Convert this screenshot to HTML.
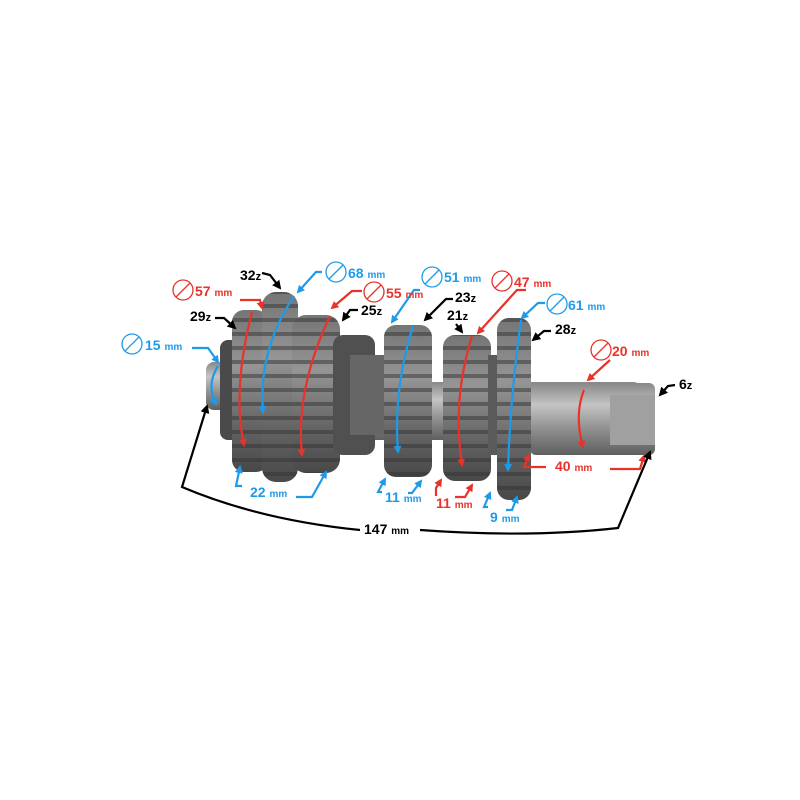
<!DOCTYPE html>
<html><head><meta charset="utf-8"><style>
html,body{margin:0;padding:0;background:#fff;}
svg{display:block}
text{font-family:"Liberation Sans",sans-serif;font-weight:bold;}
</style></head><body>
<svg width="800" height="800" viewBox="0 0 800 800" xmlns="http://www.w3.org/2000/svg">
<defs>
<linearGradient id="g" x1="0" y1="0" x2="0" y2="1">
<stop offset="0" stop-color="#757575"/><stop offset="0.35" stop-color="#959595"/><stop offset="0.7" stop-color="#666"/><stop offset="1" stop-color="#484848"/></linearGradient>
<linearGradient id="s" x1="0" y1="0" x2="0" y2="1">
<stop offset="0" stop-color="#888"/><stop offset="0.3" stop-color="#c4c4c4"/><stop offset="0.6" stop-color="#959595"/><stop offset="1" stop-color="#5f5f5f"/></linearGradient>
<pattern id="t" width="10" height="14" patternUnits="userSpaceOnUse"><rect width="10" height="14" fill="none"/><rect y="10" width="10" height="4" fill="#333" opacity="0.5"/></pattern>
<marker id="ar" markerWidth="8" markerHeight="8" refX="6" refY="4" orient="auto" markerUnits="userSpaceOnUse"><path d="M0,0 L8,4 L0,8 Z" fill="#e8322a"/></marker>
<marker id="ab" markerWidth="8" markerHeight="8" refX="6" refY="4" orient="auto" markerUnits="userSpaceOnUse"><path d="M0,0 L8,4 L0,8 Z" fill="#1e9be8"/></marker>
<marker id="ak" markerWidth="9" markerHeight="9" refX="7" refY="4.5" orient="auto" markerUnits="userSpaceOnUse"><path d="M0,0 L9,4.5 L0,9 Z" fill="#000"/></marker>
</defs>
<rect x="340" y="382" width="300" height="58" rx="6" fill="url(#s)"/>
<rect x="530" y="383" width="125" height="72" rx="6" fill="url(#s)"/>
<rect x="610" y="395" width="45" height="50" fill="#a0a0a0"/>
<rect x="206" y="362" width="30" height="48" rx="8" fill="url(#s)"/>
<rect x="220" y="340" width="20" height="100" rx="8" fill="#4a4a4a"/>
<rect x="232" y="310" width="36" height="162" rx="12" fill="url(#g)"/>
<rect x="232" y="310" width="36" height="162" rx="12" fill="url(#t)"/>
<rect x="262" y="292" width="36" height="190" rx="14" fill="url(#g)"/>
<rect x="262" y="292" width="36" height="190" rx="14" fill="url(#t)"/>
<rect x="292" y="315" width="48" height="158" rx="14" fill="url(#g)"/>
<rect x="292" y="315" width="48" height="158" rx="14" fill="url(#t)"/>
<rect x="333" y="335" width="42" height="120" rx="10" fill="#505050"/>
<rect x="350" y="355" width="35" height="80" fill="#666"/>
<rect x="384" y="325" width="48" height="152" rx="12" fill="url(#g)"/>
<rect x="384" y="325" width="48" height="152" rx="12" fill="url(#t)"/>
<rect x="443" y="335" width="48" height="146" rx="12" fill="url(#g)"/>
<rect x="443" y="335" width="48" height="146" rx="12" fill="url(#t)"/>
<rect x="488" y="355" width="12" height="100" fill="#5a5a5a"/>
<rect x="497" y="318" width="34" height="182" rx="12" fill="url(#g)"/>
<rect x="497" y="318" width="34" height="182" rx="12" fill="url(#t)"/>

<g fill="none" stroke="#e8322a" stroke-width="2.2">
<path d="M240,300 L260,300 L262,308" marker-end="url(#ar)"/>
<path d="M252,312 Q232,390 244,445" marker-end="url(#ar)"/>
<path d="M362,291 L352,291 L332,308" marker-end="url(#ar)"/>
<path d="M330,316 Q295,390 302,455" marker-end="url(#ar)"/>
<path d="M526,290 L517,290 L478,333" marker-end="url(#ar)"/>
<path d="M472,336 Q452,400 462,465" marker-end="url(#ar)"/>
<path d="M610,360 L588,380" marker-end="url(#ar)"/>
<path d="M584,390 Q574,415 583,447" marker-end="url(#ar)"/>
<path d="M436,496 L436,488 L441,480" marker-end="url(#ar)"/>
<path d="M455,497 L465,497 L472,485" marker-end="url(#ar)"/>
<path d="M546,467 L524,467 L529,455" marker-end="url(#ar)"/>
<path d="M610,469 L640,469 L644,456" marker-end="url(#ar)"/>
</g>
<g fill="none" stroke="#1e9be8" stroke-width="2.2">
<path d="M322,272 L316,272 L298,292" marker-end="url(#ab)"/>
<path d="M294,296 Q258,350 263,412" marker-end="url(#ab)"/>
<path d="M192,348 L208,348 L218,362" marker-end="url(#ab)"/>
<path d="M218,366 Q206,385 216,404" marker-end="url(#ab)"/>
<path d="M420,290 L414,290 L392,322" marker-end="url(#ab)"/>
<path d="M413,326 Q393,390 398,452" marker-end="url(#ab)"/>
<path d="M545,303 L538,303 L522,318" marker-end="url(#ab)"/>
<path d="M521,320 Q510,400 508,470" marker-end="url(#ab)"/>
<path d="M242,486 L236,486 L240,467" marker-end="url(#ab)"/>
<path d="M296,497 L312,497 L326,472" marker-end="url(#ab)"/>
<path d="M382,492 L378,492 L385,479" marker-end="url(#ab)"/>
<path d="M408,493 L412,493 L421,481" marker-end="url(#ab)"/>
<path d="M488,507 L484,507 L490,493" marker-end="url(#ab)"/>
<path d="M506,510 L512,510 L517,497" marker-end="url(#ab)"/>
</g>
<g fill="none" stroke="#000" stroke-width="2.2">
<path d="M262,273 L270,275 L280,288" marker-end="url(#ak)"/>
<path d="M215,318 L224,318 L235,328" marker-end="url(#ak)"/>
<path d="M358,310 L350,310 L343,320" marker-end="url(#ak)"/>
<path d="M453,299 L446,299 L425,320" marker-end="url(#ak)"/>
<path d="M456,324 L462,332" marker-end="url(#ak)"/>
<path d="M551,331 L544,331 L533,340" marker-end="url(#ak)"/>
<path d="M675,385 L668,386 L660,395" marker-end="url(#ak)"/>
<path d="M360,530 Q260,520 182,487 L207,406" marker-end="url(#ak)"/>
<path d="M420,530 Q530,538 618,528 L650,452" marker-end="url(#ak)"/>
</g>
<g fill="none" stroke-width="1.3">
<g stroke="#e8322a"><circle cx="183" cy="290" r="10"/><line x1="176" y1="297" x2="190" y2="283"/>
<circle cx="374" cy="292" r="10"/><line x1="367" y1="299" x2="381" y2="285"/>
<circle cx="502" cy="281" r="10"/><line x1="495" y1="288" x2="509" y2="274"/>
<circle cx="601" cy="350" r="10"/><line x1="594" y1="357" x2="608" y2="343"/></g>
<g stroke="#1e9be8"><circle cx="336" cy="272" r="10"/><line x1="329" y1="279" x2="343" y2="265"/>
<circle cx="132" cy="344" r="10"/><line x1="125" y1="351" x2="139" y2="337"/>
<circle cx="432" cy="277" r="10"/><line x1="425" y1="284" x2="439" y2="270"/>
<circle cx="557" cy="304" r="10"/><line x1="550" y1="311" x2="564" y2="297"/></g>
</g>
<g fill="#e8322a" font-size="14">
<text x="195" y="296">57 <tspan font-size="10">mm</tspan></text>
<text x="386" y="298">55 <tspan font-size="10">mm</tspan></text>
<text x="514" y="287">47 <tspan font-size="10">mm</tspan></text>
<text x="612" y="356">20 <tspan font-size="10">mm</tspan></text>
<text x="436" y="508">11 <tspan font-size="10">mm</tspan></text>
<text x="555" y="471">40 <tspan font-size="10">mm</tspan></text>
</g>
<g fill="#1e9be8" font-size="14">
<text x="348" y="278">68 <tspan font-size="10">mm</tspan></text>
<text x="145" y="350">15 <tspan font-size="10">mm</tspan></text>
<text x="444" y="282">51 <tspan font-size="10">mm</tspan></text>
<text x="568" y="310">61 <tspan font-size="10">mm</tspan></text>
<text x="250" y="497">22 <tspan font-size="10">mm</tspan></text>
<text x="385" y="502">11 <tspan font-size="10">mm</tspan></text>
<text x="490" y="522">9 <tspan font-size="10">mm</tspan></text>
</g>
<g fill="#000" font-size="14">
<text x="240" y="280">32<tspan font-size="11">z</tspan></text>
<text x="190" y="321">29<tspan font-size="11">z</tspan></text>
<text x="361" y="315">25<tspan font-size="11">z</tspan></text>
<text x="455" y="302">23<tspan font-size="11">z</tspan></text>
<text x="447" y="320">21<tspan font-size="11">z</tspan></text>
<text x="555" y="334">28<tspan font-size="11">z</tspan></text>
<text x="679" y="389">6<tspan font-size="11">z</tspan></text>
<text x="364" y="534">147 <tspan font-size="10">mm</tspan></text>
</g>
</svg>
</body></html>
